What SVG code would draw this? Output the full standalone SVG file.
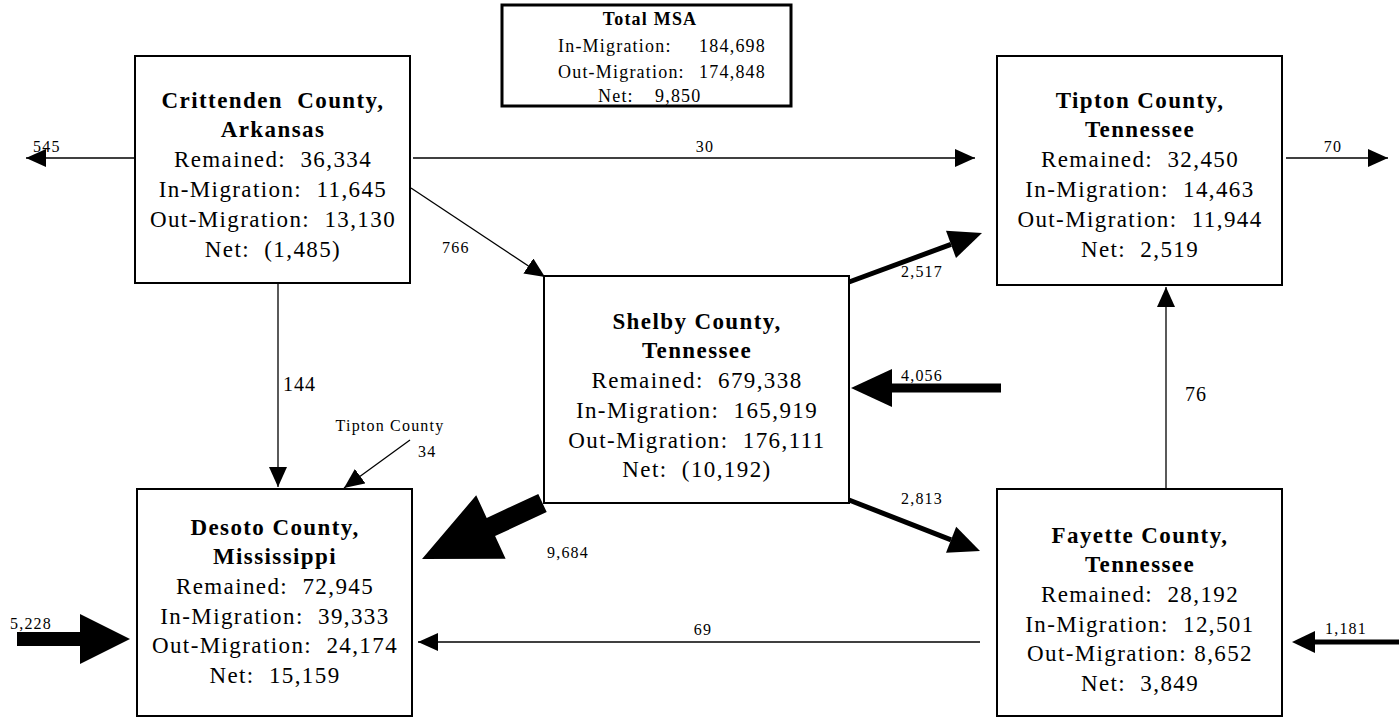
<svg xmlns="http://www.w3.org/2000/svg" width="1400" height="717" viewBox="0 0 1400 717">
<style>
.bg{fill:#fff}
.box{fill:#fff;stroke:#000;stroke-width:2}
.msa{fill:#fff;stroke:#000;stroke-width:3}
text{white-space:pre}
.t{font-family:"Liberation Serif","Times New Roman",serif;font-size:23px;letter-spacing:1.4px;text-anchor:middle;fill:#000}
.b{font-weight:bold}
.m{font-family:"Liberation Serif","Times New Roman",serif;font-size:18px;letter-spacing:1.2px;fill:#000}
.lbl{font-family:"Liberation Serif","Times New Roman",serif;font-size:16px;letter-spacing:1.2px;fill:#000}
.big{font-family:"Liberation Serif","Times New Roman",serif;font-size:20px;letter-spacing:1px;fill:#000}
.thin{stroke:#000;stroke-width:1.3;fill:none;marker-end:url(#ah)}
.thick{stroke:#000;fill:none}
.head{fill:#000}
</style>
<defs>
<marker id="ah" viewBox="0 0 20 18" refX="20" refY="9" markerWidth="20" markerHeight="18" markerUnits="userSpaceOnUse" orient="auto"><path d="M0,0 L20,9 L0,18 z" fill="#000"/></marker>
</defs>
<rect class="bg" x="0" y="0" width="1400" height="717"/>
<g id="connectors">
<line class="thin" x1="135" y1="158" x2="26" y2="158"/>
<line class="thin" x1="413" y1="158" x2="975" y2="158"/>
<line class="thin" x1="1286" y1="158" x2="1388" y2="158"/>
<line class="thin" x1="411" y1="188" x2="545" y2="277"/>
<line class="thin" x1="278" y1="284" x2="278" y2="487"/>
<line class="thin" x1="410" y1="440" x2="344" y2="488"/>
<line class="thin" x1="1166" y1="489" x2="1166" y2="287"/>
<line class="thin" x1="980" y1="642" x2="418" y2="642"/>
<line class="thick" stroke-width="5" x1="849" y1="282" x2="951" y2="244.4"/>
<polygon class="head" points="946,230.8 982,233 956,258"/>
<line class="thick" stroke-width="5" x1="849" y1="500" x2="951.1" y2="539.8"/>
<polygon class="head" points="956.2,526.8 980,551 946,552.8"/>
<polygon class="head" points="538.3,493.9 486.7,517.9 476.2,495.3 422,559 505.6,558.7 495.1,536.1 546.7,512.1"/>
<line class="thick" stroke-width="9" x1="1001" y1="388" x2="890" y2="388"/>
<polygon class="head" points="892,369 851,388 892,407"/>
<line class="thick" stroke-width="14" x1="17" y1="639" x2="82" y2="639"/>
<polygon class="head" points="80,614 130,639 80,664"/>
<line class="thick" stroke-width="5" x1="1399" y1="642" x2="1313" y2="642"/>
<polygon class="head" points="1315,631 1292,642 1315,653"/>
<text class="lbl" x="33" y="152">545</text>
<text class="lbl" x="705" y="152" text-anchor="middle">30</text>
<text class="lbl" x="1333" y="152" text-anchor="middle">70</text>
<text class="lbl" x="442" y="253">766</text>
<text class="big" x="283" y="391">144</text>
<text class="big" x="1185" y="401">76</text>
<text class="lbl" x="390" y="431" text-anchor="middle">Tipton County</text>
<text class="lbl" x="418" y="457">34</text>
<text class="lbl" x="547" y="558">9,684</text>
<text class="lbl" x="901" y="381">4,056</text>
<text class="lbl" x="901" y="277">2,517</text>
<text class="lbl" x="901" y="504">2,813</text>
<text class="lbl" x="703" y="635" text-anchor="middle">69</text>
<text class="lbl" x="10" y="629">5,228</text>
<text class="lbl" x="1325" y="634">1,181</text>
</g>
<g id="total-msa">
<rect class="msa" x="502" y="5" width="289" height="101"/>
<text class="m b" x="650" y="25" text-anchor="middle">Total MSA</text>
<text class="m" x="558" y="52">In-Migration:</text>
<text class="m" x="766" y="52" text-anchor="end">184,698</text>
<text class="m" x="558" y="78">Out-Migration:</text>
<text class="m" x="766" y="78" text-anchor="end">174,848</text>
<text class="m" x="598" y="102">Net:</text>
<text class="m" x="655" y="102">9,850</text>
</g>
<g id="crittenden">
<rect class="box" x="135" y="56" width="275" height="227"/>
<text class="t b" x="273" y="108">Crittenden  County,</text>
<text class="t b" x="273" y="137">Arkansas</text>
<text class="t" x="273" y="167">Remained:  36,334</text>
<text class="t" x="273" y="197">In-Migration:  11,645</text>
<text class="t" x="273" y="227">Out-Migration:  13,130</text>
<text class="t" x="273" y="257">Net:  (1,485)</text>
</g>
<g id="tipton">
<rect class="box" x="997" y="56" width="285" height="229"/>
<text class="t b" x="1140" y="108">Tipton County,</text>
<text class="t b" x="1140" y="137">Tennessee</text>
<text class="t" x="1140" y="167">Remained:  32,450</text>
<text class="t" x="1140" y="197">In-Migration:  14,463</text>
<text class="t" x="1140" y="227">Out-Migration:  11,944</text>
<text class="t" x="1140" y="257">Net:  2,519</text>
</g>
<g id="shelby">
<rect class="box" x="544" y="276" width="305" height="227"/>
<text class="t b" x="697" y="329">Shelby County,</text>
<text class="t b" x="697" y="358">Tennessee</text>
<text class="t" x="697" y="388">Remained:  679,338</text>
<text class="t" x="697" y="418">In-Migration:  165,919</text>
<text class="t" x="697" y="448">Out-Migration:  176,111</text>
<text class="t" x="697" y="477">Net:  (10,192)</text>
</g>
<g id="desoto">
<rect class="box" x="137" y="489" width="275" height="227"/>
<text class="t b" x="275" y="535">Desoto County,</text>
<text class="t b" x="275" y="564">Mississippi</text>
<text class="t" x="275" y="594">Remained:  72,945</text>
<text class="t" x="275" y="624">In-Migration:  39,333</text>
<text class="t" x="275" y="653">Out-Migration:  24,174</text>
<text class="t" x="275" y="683">Net:  15,159</text>
</g>
<g id="fayette">
<rect class="box" x="997" y="489" width="285" height="227"/>
<text class="t b" x="1140" y="543">Fayette County,</text>
<text class="t b" x="1140" y="572">Tennessee</text>
<text class="t" x="1140" y="602">Remained:  28,192</text>
<text class="t" x="1140" y="632">In-Migration:  12,501</text>
<text class="t" x="1140" y="661">Out-Migration: 8,652</text>
<text class="t" x="1140" y="691">Net:  3,849</text>
</g>
</svg>
